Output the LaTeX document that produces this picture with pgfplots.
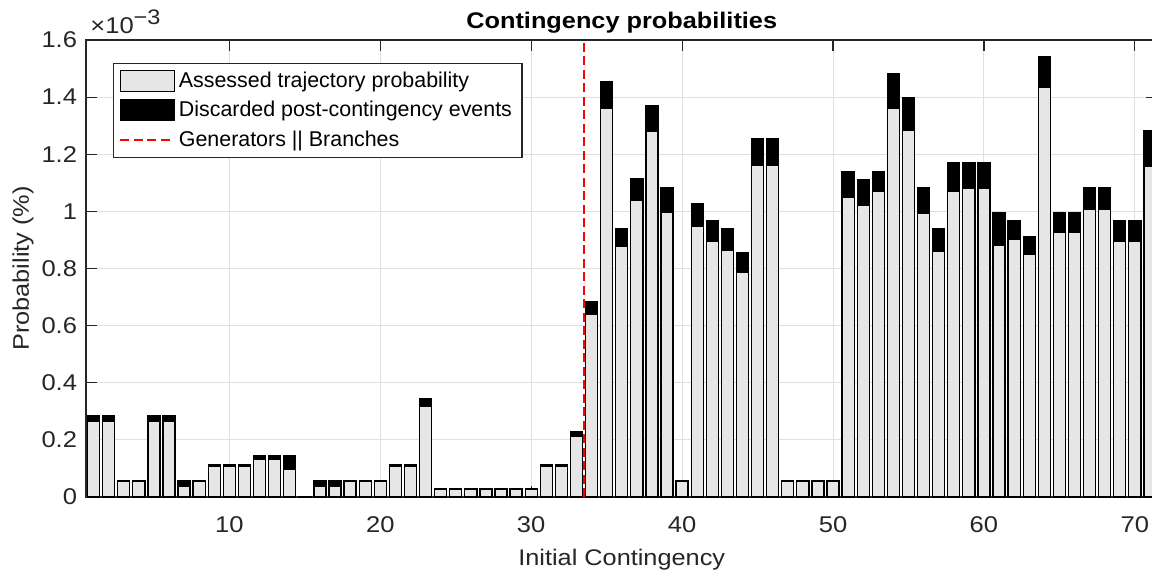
\documentclass[border=0pt]{standalone}
\usepackage{fontspec}
\setmainfont{Liberation Sans}
\newfontfamily\axfont[FakeStretch=1.12]{Liberation Sans}
\usepackage{pgfplots}
\usepackage{pgfplotstable}
\pgfplotsset{compat=1.18}

\definecolor{axgray}{RGB}{38,38,38}
\definecolor{gridgray}{RGB}{223,223,223}
\definecolor{barfill}{RGB}{230,230,230}
\definecolor{sepred}{RGB}{255,0,0}

% x = contingency, g = assessed (grey), d = discarded (black), units of 1e-3
\pgfplotstableread{
x g d
1 0.265 0.021
2 0.265 0.021
3 0.055 0.003
4 0.055 0.003
5 0.265 0.021
6 0.265 0.021
7 0.037 0.021
8 0.055 0.003
9 0.106 0.008
10 0.106 0.008
11 0.106 0.008
12 0.133 0.011
13 0.133 0.011
14 0.097 0.047
15 0.001 0.000
16 0.037 0.021
17 0.037 0.021
18 0.055 0.003
19 0.055 0.003
20 0.055 0.003
21 0.106 0.008
22 0.106 0.008
23 0.319 0.024
24 0.028 0.001
25 0.028 0.001
26 0.028 0.001
27 0.028 0.001
28 0.028 0.001
29 0.028 0.001
30 0.027 0.003
31 0.106 0.008
32 0.106 0.008
33 0.213 0.015
34 0.638 0.046
35 1.359 0.095
36 0.879 0.061
37 1.039 0.075
38 1.280 0.090
39 0.997 0.087
40 0.055 0.003
41 0.948 0.078
42 0.895 0.073
43 0.865 0.075
44 0.788 0.067
45 1.161 0.094
46 1.161 0.094
47 0.055 0.003
48 0.055 0.003
49 0.055 0.003
50 0.055 0.003
51 1.050 0.090
52 1.022 0.090
53 1.069 0.071
54 1.359 0.123
55 1.283 0.114
56 0.993 0.089
57 0.861 0.079
58 1.071 0.098
59 1.080 0.089
60 1.080 0.089
61 0.881 0.116
62 0.902 0.067
63 0.848 0.063
64 1.435 0.106
65 0.928 0.069
66 0.928 0.069
67 1.008 0.074
68 1.008 0.074
69 0.894 0.075
70 0.894 0.075
71 1.157 0.126
}\probdata

\begin{document}
\begin{tikzpicture}
\begin{axis}[
  name=ax,
  scale only axis,
  width=535.75pt, height=228.5pt,
  xmin=0.5, xmax=71.5, ymin=0, ymax=1.6,
  ybar stacked, bar width=0.8,
  xtick={10,20,30,40,50,60,70},
  ytick={0,0.2,0.4,0.6,0.8,1,1.2,1.4,1.6},
  tick pos=both, tick align=inside,
  major tick length=5.5pt,
  grid=major,
  major grid style={gridgray, line width=0.5pt},
  axis line style={axgray, line width=0.6pt},
  every tick/.style={axgray, line width=0.6pt},
  tick label style={font=\axfont\fontsize{11.4}{13}\selectfont, text=axgray},
  xticklabel style={anchor=base, yshift=-17.7pt},
  yticklabel style={anchor=east, inner xsep=0pt, xshift=-4.3pt},
  /pgf/number format/assume math mode=true,
  xlabel={Initial Contingency},
  ylabel={Probability (\%)},
  every axis x label/.style={at={(axis description cs:0.5,-0.1503)}, anchor=base,
    font=\axfont\fontsize{11.3}{13}\selectfont, text=axgray},
  every axis y label/.style={at={(axis description cs:-0.0532,0.5)}, rotate=90, anchor=base,
    font=\axfont\fontsize{11.3}{13}\selectfont, text=axgray},
  title={Contingency probabilities},
  every axis title/.style={at={(axis description cs:0.5,1.0256)}, anchor=base,
    font=\axfont\fontsize{11.3}{13}\selectfont\bfseries},
  legend style={at={(0.0252,0.9497)}, anchor=north west, draw=axgray,
    line width=0.6pt, font=\fontsize{10.7}{12.5}\selectfont,
    inner xsep=3pt, inner ysep=2pt, row sep=1.5pt},
  legend cell align=left,
  barleg/.style={legend image code/.code={\draw[##1] (0pt,-5.25pt) rectangle (27pt,5.25pt);}},
  lineleg/.style={legend image code/.code={%
    \pgfsetcolor{sepred}%
    \draw[color=sepred, draw=sepred, line width=0.65pt, dash pattern=on 4.5pt off 2.25pt] (0pt,0pt) -- (27pt,0pt);}},
]
\addplot[fill=barfill, draw=black, line width=0.65pt, barleg] table[x=x, y=g] {\probdata};
\addlegendentry{Assessed trajectory probability}
\addplot[fill=black, draw=black, line width=0.65pt, barleg] table[x=x, y=d] {\probdata};
\addlegendentry{Discarded post-contingency events}
\addplot[color=sepred, draw=sepred, line width=0.55pt, dash pattern=on 4.5pt off 2.25pt, sharp plot, stack plots=false, mark=none, lineleg]
  coordinates {(33.5,0) (33.5,1.6)};
\addlegendentry{Generators || Branches}
\end{axis}
\node[anchor=base west, inner sep=0pt, text=axgray, font=\axfont\fontsize{11.4}{13}\selectfont]
  at ([xshift=2pt, yshift=3.5pt]ax.north west) {×10\raisebox{4.5pt}{\fontsize{10.5}{12}\selectfont −3}};
\pgfresetboundingbox
\path[use as bounding box] ([xshift=-43pt, yshift=-39pt]ax.south west) rectangle ++(576pt,287.5pt);
\end{tikzpicture}
\end{document}
